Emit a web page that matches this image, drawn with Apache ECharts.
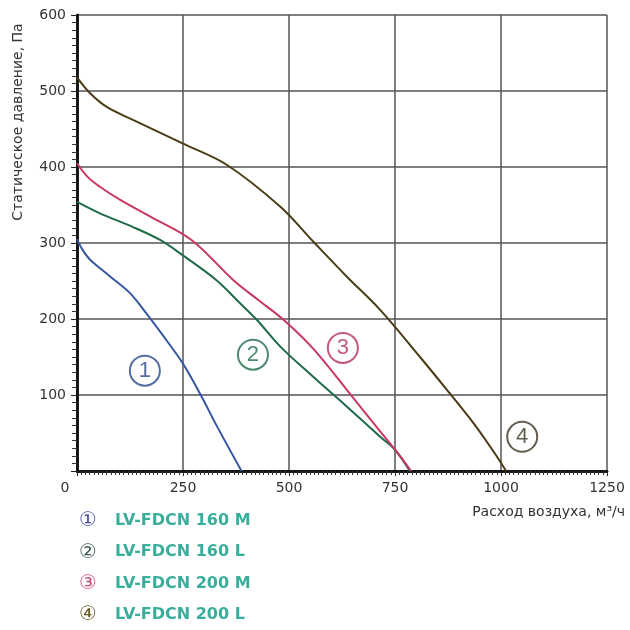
<!DOCTYPE html>
<html><head><meta charset="utf-8">
<script src="https://cdn.jsdelivr.net/npm/echarts@6/dist/echarts.min.js"></script>
<style>html,body{margin:0;padding:0;background:#fff}#c{width:630px;height:630px}</style>
</head><body><div id="c"></div>
<script>
// Series data: [airflow m3/h, static pressure Pa]
const names = ['LV-FDCN 160 M', 'LV-FDCN 160 L', 'LV-FDCN 200 M', 'LV-FDCN 200 L'];
const circled = ['①', '②', '③', '④'];
const s1 = [[0,305],[12,292],[31,278],[78,256],[125,234],[164,207],[211,172],[249,142],[290,102],[329,60],[388,0]];
const s2 = [[0,354],[54,339],[132,321],[196,304],[249,284],[329,251],[384,221],[424,199],[479,164],[557,124],[636,85],[715,45],[750,28],[785,0]];
const s3 = [[0,405],[25,387],[54,374],[101,357],[172,335],[270,304],[369,251],[430,224],[487,199],[557,161],[636,107],[715,52],[750,28],[788,0]];
const s4 = [[0,518],[31,497],[70,479],[132,462],[249,431],[353,403],[479,348],[557,302],[636,256],[715,212],[809,150],[872,107],[935,63],[982,26],[1012,0]];
// Curve number label positions (data coords)
const tagPos = [[160,132],[415,153],[627,162],[1050,45]];
const xTicks = [0, 250, 500, 750, 1000, 1250];
const yTicks = [100, 200, 300, 400, 500, 600];

const colors = ['#3556a0', '#1e6b48', '#c8385f', '#4a3c14'];
const tagColors = ['#2c4a8c', '#1e6b48', '#b53358', '#3f3520'];
const legendCirc = ['#4b4e9e', '#3c5a4a', '#d04a78', '#6b5a25'];
const series = [s1, s2, s3, s4].map((d, i) => ({
  name: names[i], type: 'line', data: d, smooth: 0.35, showSymbol: false,
  lineStyle: {color: colors[i], width: 2}, itemStyle: {color: colors[i]}, z: 3
}));
tagPos.forEach((p, i) => series.push({
  type: 'scatter', data: [p], symbol: 'circle', symbolSize: 30,
  itemStyle: {color: 'rgba(255,255,255,0)', borderColor: tagColors[i], borderWidth: 2},
  label: {show: true, position: 'inside', formatter: String(i + 1), color: tagColors[i],
    fontSize: 22, fontFamily: 'Liberation Sans', fontWeight: 'normal'},
  silent: true, z: 4
}));

const rich = {t: {color: '#3aae9c', fontSize: 16, fontWeight: 'bold', fontFamily: 'DejaVu Sans', padding: [0,0,0,18]}};
legendCirc.forEach((c, i) => rich['c' + i] = {color: c, fontSize: 20, fontFamily: 'DejaVu Sans'});

const lbl = {color: '#333', fontSize: 14, fontFamily: 'DejaVu Sans'};
const chart = echarts.init(document.getElementById('c'), null, {renderer: 'canvas'});
chart.setOption({
  animation: false,
  grid: {left: 77, right: 23, top: 15, bottom: 159},
  legend: {
    data: names, orient: 'vertical', left: 69, top: 506, itemGap: 11.3,
    icon: 'none', itemWidth: 0, itemHeight: 10,
    formatter: n => { const i = names.indexOf(n); return '{c' + i + '|' + circled[i] + '}{t|' + n + '}'; },
    textStyle: {rich: rich}
  },
  xAxis: [{
    type: 'value', min: 0, max: 1250, interval: 250,
    axisLine: {show: true, lineStyle: {color: '#111', width: 2.5}},
    axisTick: {show: true, length: 5, lineStyle: {color: '#222', width: 1}},
    minorTick: {show: true, splitNumber: 25, length: 4, lineStyle: {color: '#333', width: 1}},
    splitLine: {show: true, lineStyle: {color: '#555', width: 1.5}},
    axisLabel: Object.assign({margin: 10,
      formatter: v => xTicks.includes(v) ? (v === 0 ? '{z|0}' : String(v)) : '',
      rich: {z: Object.assign({padding: [0, 24, 0, 0]}, lbl)}}, lbl)
  }, {
    type: 'value', position: 'top', min: 0, max: 1250, interval: 250,
    axisLine: {show: true, lineStyle: {color: '#111', width: 2.5}},
    axisTick: {show: true, inside: true, length: 5, lineStyle: {color: '#222'}},
    minorTick: {show: true, splitNumber: 25, length: 3, lineStyle: {color: '#333'}},
    splitLine: {show: false}, axisLabel: {show: false}
  }],
  yAxis: [{
    type: 'value', min: 0, max: 600, interval: 100,
    axisLine: {show: true, lineStyle: {color: '#111', width: 2.5}},
    axisTick: {show: true, length: 6, lineStyle: {color: '#222', width: 1}},
    minorTick: {show: true, splitNumber: 10, length: 5, lineStyle: {color: '#333', width: 1}},
    splitLine: {show: true, lineStyle: {color: '#555', width: 1.5}},
    axisLabel: Object.assign({margin: 11, formatter: v => yTicks.includes(v) ? String(v) : ''}, lbl)
  }, {
    type: 'value', position: 'right', min: 0, max: 600, interval: 100,
    axisLine: {show: true, lineStyle: {color: '#111', width: 2.5}},
    axisTick: {show: true, inside: true, length: 6, lineStyle: {color: '#222'}},
    minorTick: {show: true, splitNumber: 10, length: 4, lineStyle: {color: '#333'}},
    splitLine: {show: false}, axisLabel: {show: false}
  }],
  graphic: [
    {type: 'text', x: 18, y: 122, rotation: Math.PI / 2,
      style: {text: 'Статическое давление, Па', fill: '#333', font: '14px "DejaVu Sans"', align: 'center', verticalAlign: 'middle'}},
    {type: 'text', x: 625, y: 512,
      style: {text: 'Расход воздуха, м³/ч', fill: '#333', font: '14px "DejaVu Sans"', align: 'right', verticalAlign: 'middle'}}
  ],
  series: series
});
</script></body></html>
